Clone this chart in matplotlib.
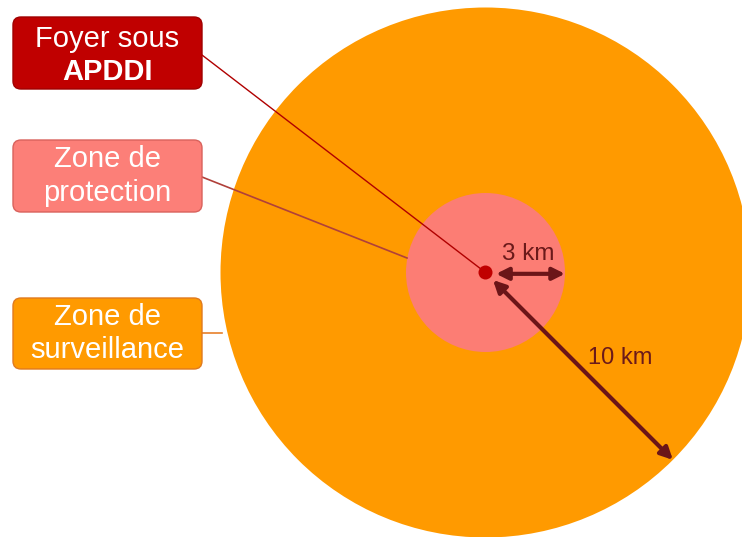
import numpy as np
import matplotlib.pyplot as plt
from matplotlib.patches import Circle, FancyBboxPatch

# zones (rayon en km), de l'extérieur vers l'intérieur
zone_names = ['Zone de\nsurveillance', 'Zone de\nprotection']
zone_radius_km = [10, 3]
zone_colors = ['#FF9A00', '#FC7D74']
box_colors = ['#FF9A00', '#FC7F78']
box_edges = ['#E07A1E', '#D9625C']
link_colors = ['#E8802A', '#B0403A']

foyer_label = 'Foyer sous'
foyer_bold = 'APDDI'
arrow_labels = ['3 km', '10 km']

W, H = 742, 537
cx, cy = 485.5, 272.5          # centre du foyer (pixels)
s = 26.5                        # pixels par km

def px(x, y):
    # pixels image -> coordonnées km
    return (x - cx) / s, (cy - y) / s

fig = plt.figure(figsize=(W / 100, H / 100), dpi=100)
ax = fig.add_axes([0, 0, 1, 1])
x0, y1 = px(0, 0)
x1, y0 = px(W, H)
ax.set_xlim(x0, x1)
ax.set_ylim(y0, y1)
ax.set_aspect('equal')
ax.axis('off')

# cercles
for r, c in zip(zone_radius_km, zone_colors):
    ax.add_patch(Circle((0, 0), r, fc=c, ec='none', zorder=1))
ax.add_patch(Circle((0, 0), 7 / s, fc='#C00000', ec='none', zorder=5))

# boîtes de légende
def box(ytop, ybot, fc, ec, z=3):
    (bx0, by1), (bx1, by0) = px(13, ytop), px(202, ybot)
    p = FancyBboxPatch((bx0, by0), bx1 - bx0, by1 - by0,
                       boxstyle='round,pad=0,rounding_size=0.3',
                       fc=fc, ec=ec, lw=1, zorder=z)
    ax.add_patch(p)
    return (bx0 + bx1) / 2, (by0 + by1) / 2, bx1

fnt = ['Liberation Sans', 'DejaVu Sans']
fs = 21

# foyer
mx, my, rx = box(17, 89, '#C00000', '#A00000')
ax.text(mx, px(0, 39)[1], foyer_label, ha='center', va='center', color='white',
        fontsize=fs, family=fnt, zorder=4)
ax.text(mx, px(0, 72)[1], foyer_bold, ha='center', va='center', color='white',
        fontsize=fs, family=fnt, weight='bold', zorder=4)
ax.plot([rx, 0], [px(0, 55)[1], 0], color='#B00000', lw=1, zorder=4)

# protection / surveillance
tops = [298, 140]
bots = [369, 212]
link_y = [333, 177]
link_end = [(222, 333), (407, 258)]
for i in range(2):
    mx, my, rx = box(tops[i], bots[i], box_colors[i], box_edges[i])
    ax.text(mx, my, zone_names[i], ha='center', va='center', color='white',
            fontsize=fs, family=fnt, linespacing=1.25, zorder=4)
    ex, ey = px(*link_end[i])
    ax.plot([rx, ex], [px(0, link_y[i])[1], ey], color=link_colors[i], lw=1.2, zorder=2)

# flèches de rayon
arr = dict(arrowstyle='<|-|>', color='#6B1518', lw=3, mutation_scale=18,
           shrinkA=0, shrinkB=0)
r3 = zone_radius_km[1]
ax.annotate('', xy=(r3, -0.05), xytext=(0.4, -0.05), arrowprops=arr, zorder=6)
r10 = zone_radius_km[0]
a = np.deg2rad(-45)
ax.annotate('', xy=(r10 * np.cos(a), r10 * np.sin(a)),
            xytext=(0.4 * np.cos(a), 0.4 * np.sin(a)), arrowprops=arr, zorder=6)
ax.text(*px(528, 254), arrow_labels[0], ha='center', va='center',
        color='#6B1A1A', fontsize=17.5, family=fnt, zorder=6)
ax.text(*px(620, 358), arrow_labels[1], ha='center', va='center',
        color='#6B1A1A', fontsize=17, family=fnt, zorder=6)

plt.savefig('out.png', dpi=100)
